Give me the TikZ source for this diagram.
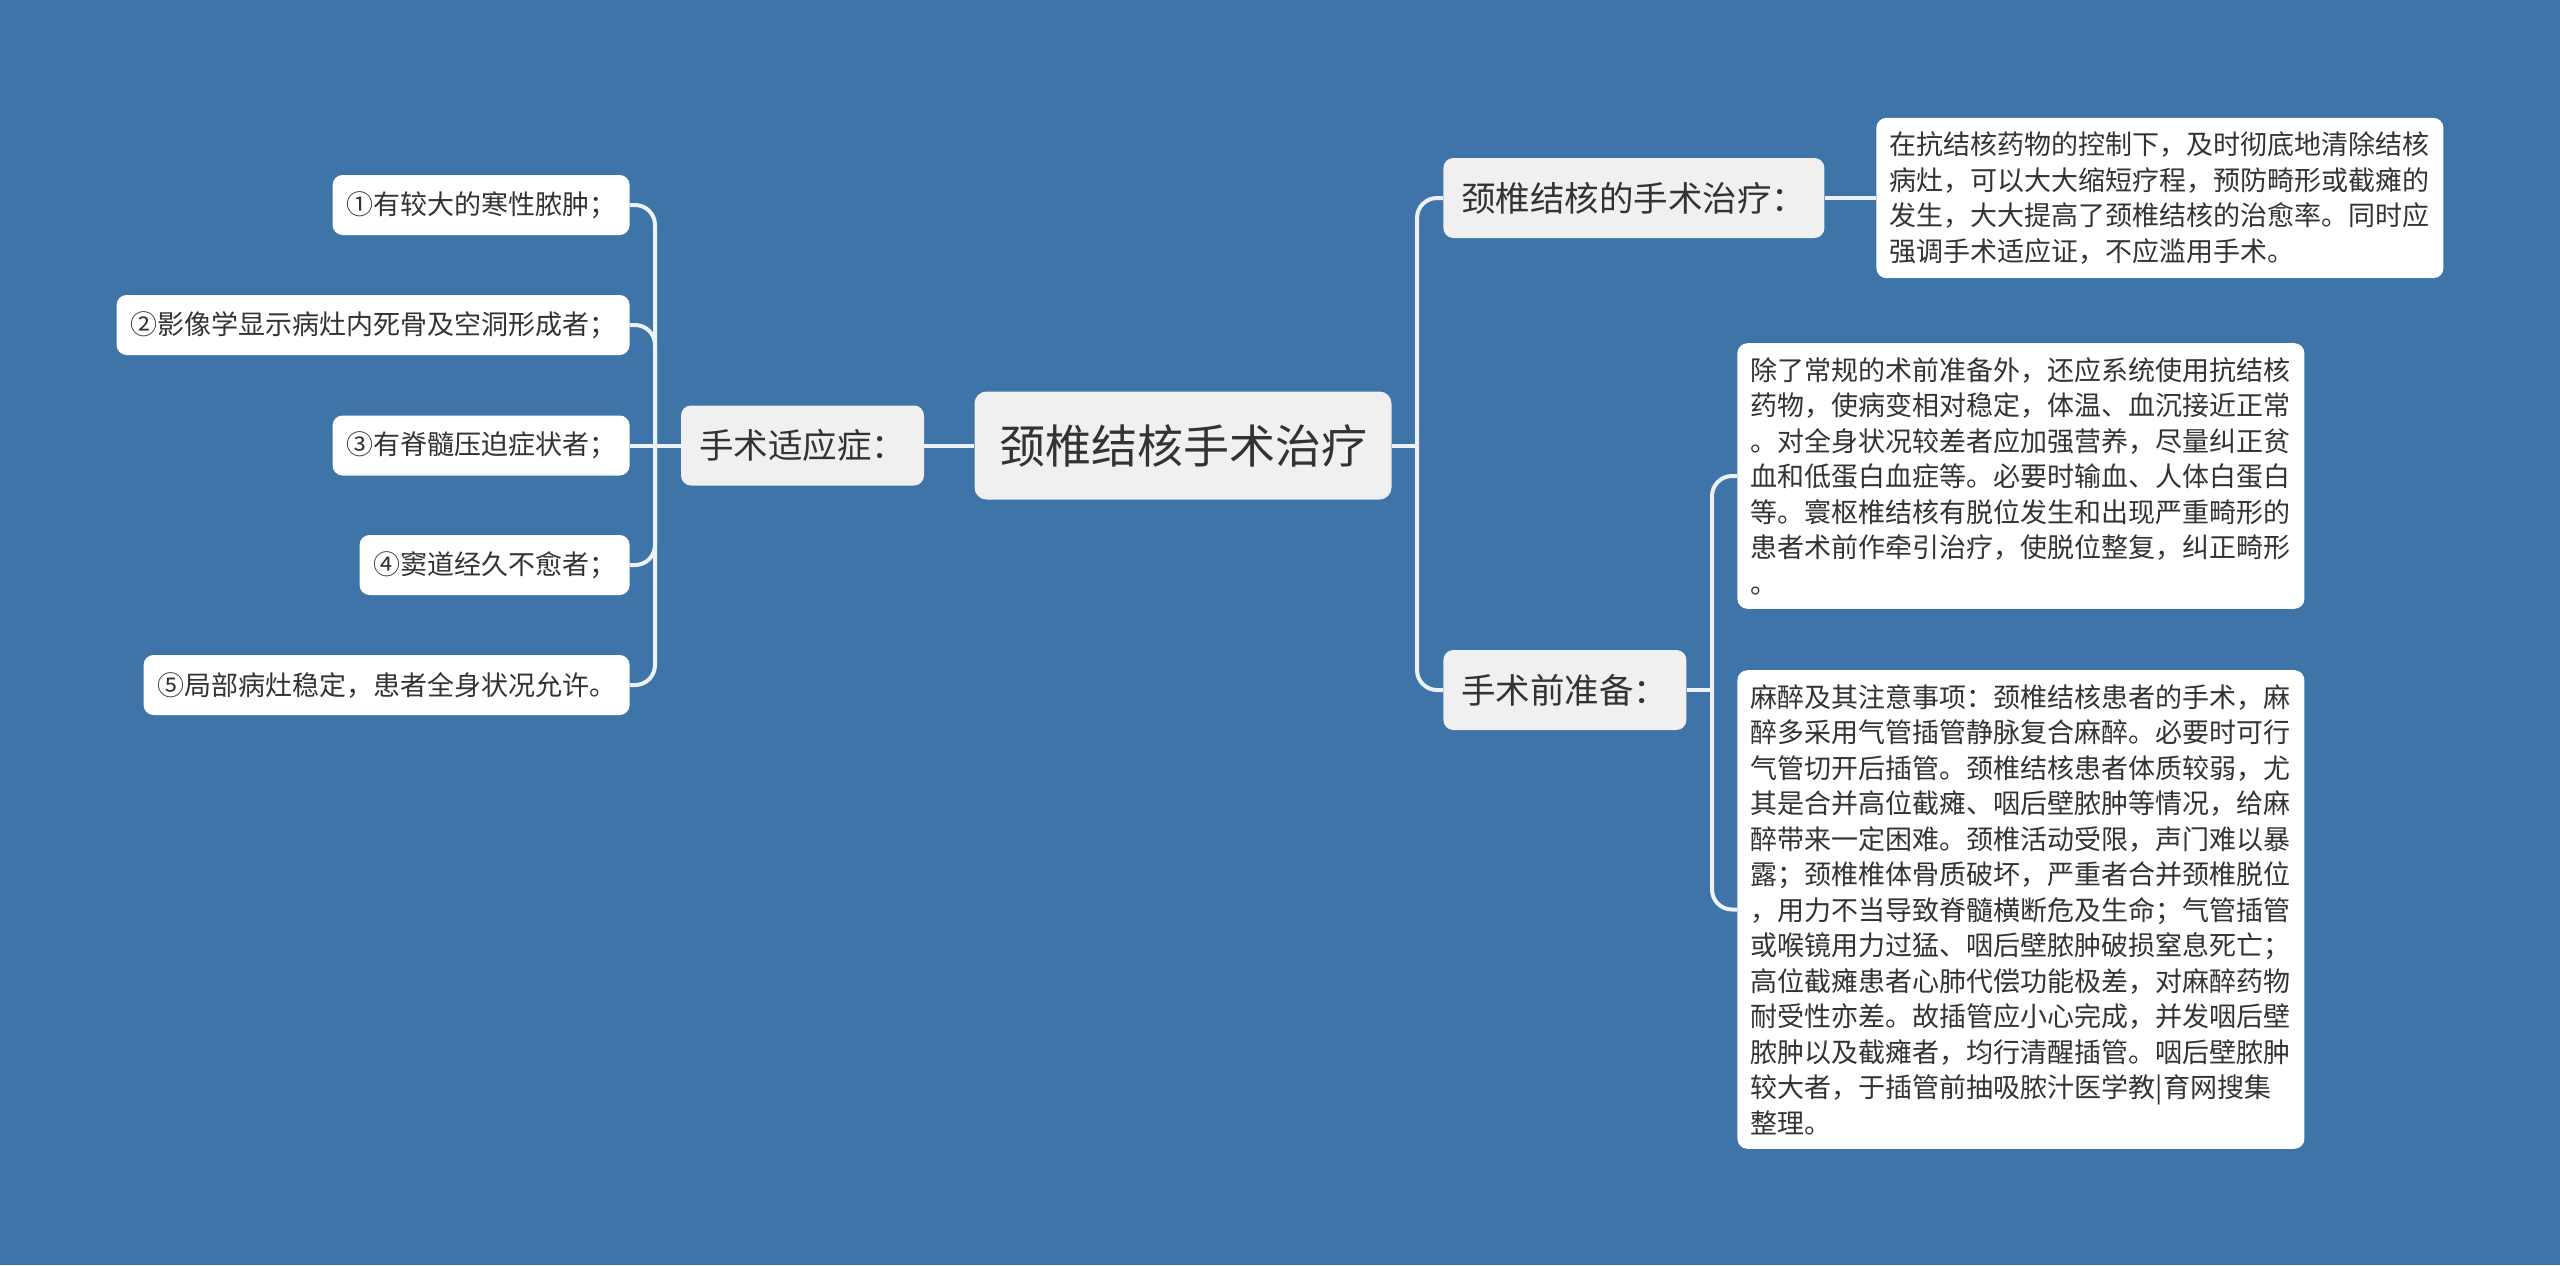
\documentclass[tikz,border=0pt]{standalone}
\usepackage{fontspec}
\setmainfont{Noto Sans CJK SC}
\usetikzlibrary{positioning}
\definecolor{bgblue}{HTML}{3E74A7}
\definecolor{nodegray}{HTML}{F0F0F0}
\definecolor{linkwhite}{HTML}{EEF2F6}
\definecolor{txtgray}{HTML}{333333}

\begin{document}
\begin{tikzpicture}[
    x=0.5pt, y=-0.5pt,
    % nodo central y temas
    root/.style={fill=nodegray, rounded corners=6pt, minimum width=208.5pt, minimum height=54pt, inner xsep=12pt, text=txtgray, font=\fontsize{23pt}{28pt}\selectfont},
    topic/.style={fill=nodegray, rounded corners=5pt, minimum height=40pt, inner xsep=9pt, text=txtgray, font=\fontsize{17.25pt}{22pt}\selectfont},
    % hojas y cuadros de texto
    leaf/.style={fill=white, rounded corners=5pt, minimum height=30pt, inner xsep=6.75pt, text=txtgray, font=\fontsize{13.5pt}{17.75pt}\selectfont},
    note/.style={fill=white, rounded corners=5pt, inner xsep=6.75pt, inner ysep=7pt, align=left, text=txtgray, font=\fontsize{13.5pt}{17.75pt}\selectfont},
    % conexiones
    link/.style={draw=linkwhite, line width=2pt, rounded corners=10pt}
]

% --- Fondo ---
\fill[bgblue] (0,0) rectangle (2560,1265);
\useasboundingbox (0,0) rectangle (2560,1265);

% --- Nodo central ---
\node[root] (root) at (1183,445.5) {颈椎结核手术治疗};

% --- Rama izquierda ---
\node[topic] (apply) at (802.5,445.5) {手术适应症：};
\node[leaf, anchor=east] (a1) at (630,205) {①有较大的寒性脓肿；};
\node[leaf, anchor=east] (a2) at (630,325) {②影像学显示病灶内死骨及空洞形成者；};
\node[leaf, anchor=east] (a3) at (630,445.5) {③有脊髓压迫症状者；};
\node[leaf, anchor=east] (a4) at (630,565) {④窦道经久不愈者；};
\node[leaf, anchor=east] (a5) at (630,685) {⑤局部病灶稳定，患者全身状况允许。};
\coordinate (jl) at (655,445.5);

\draw[link] (root.west) -- (apply.east);
\draw[link] (apply.west) -- (jl);
\draw[link] (jl) |- (a1.east);
\draw[link] (jl) |- (a2.east);
\draw[link] (jl) -- (a3.east);
\draw[link] (jl) |- (a4.east);
\draw[link] (jl) |- (a5.east);

% --- Rama derecha ---
\node[topic, anchor=west] (surg) at (1443,198) {颈椎结核的手术治疗：};
\node[topic, anchor=west] (prep) at (1443,690) {手术前准备：};
\coordinate (jr) at (1417,445.5);

\draw[link] (root.east) -- (jr);
\draw[link] (jr) |- (surg.west);
\draw[link] (jr) |- (prep.west);

\node[note, anchor=west] (n1) at (1876,198) {在抗结核药物的控制下，及时彻底地清除结核\\病灶，可以大大缩短疗程，预防畸形或截瘫的\\发生，大大提高了颈椎结核的治愈率。同时应\\强调手术适应证，不应滥用手术。};
\draw[link] (surg.east) -- (n1.west);

\node[note, anchor=west] (n2) at (1737,476) {除了常规的术前准备外，还应系统使用抗结核\\药物，使病变相对稳定，体温、血沉接近正常\\。对全身状况较差者应加强营养，尽量纠正贫\\血和低蛋白血症等。必要时输血、人体白蛋白\\等。寰枢椎结核有脱位发生和出现严重畸形的\\患者术前作牵引治疗，使脱位整复，纠正畸形\\。};
\node[note, anchor=west] (n3) at (1737,909.5) {麻醉及其注意事项：颈椎结核患者的手术，麻\\醉多采用气管插管静脉复合麻醉。必要时可行\\气管切开后插管。颈椎结核患者体质较弱，尤\\其是合并高位截瘫、咽后壁脓肿等情况，给麻\\醉带来一定困难。颈椎活动受限，声门难以暴\\露；颈椎椎体骨质破坏，严重者合并颈椎脱位\\，用力不当导致脊髓横断危及生命；气管插管\\或喉镜用力过猛、咽后壁脓肿破损窒息死亡；\\高位截瘫患者心肺代偿功能极差，对麻醉药物\\耐受性亦差。故插管应小心完成，并发咽后壁\\脓肿以及截瘫者，均行清醒插管。咽后壁脓肿\\较大者，于插管前抽吸脓汁医学教|育网搜集\\整理。};
\coordinate (jp) at (1712,690);

\draw[link] (prep.east) -- (jp);
\draw[link] (jp) |- (n2.west);
\draw[link] (jp) |- (n3.west);

\end{tikzpicture}
\end{document}
